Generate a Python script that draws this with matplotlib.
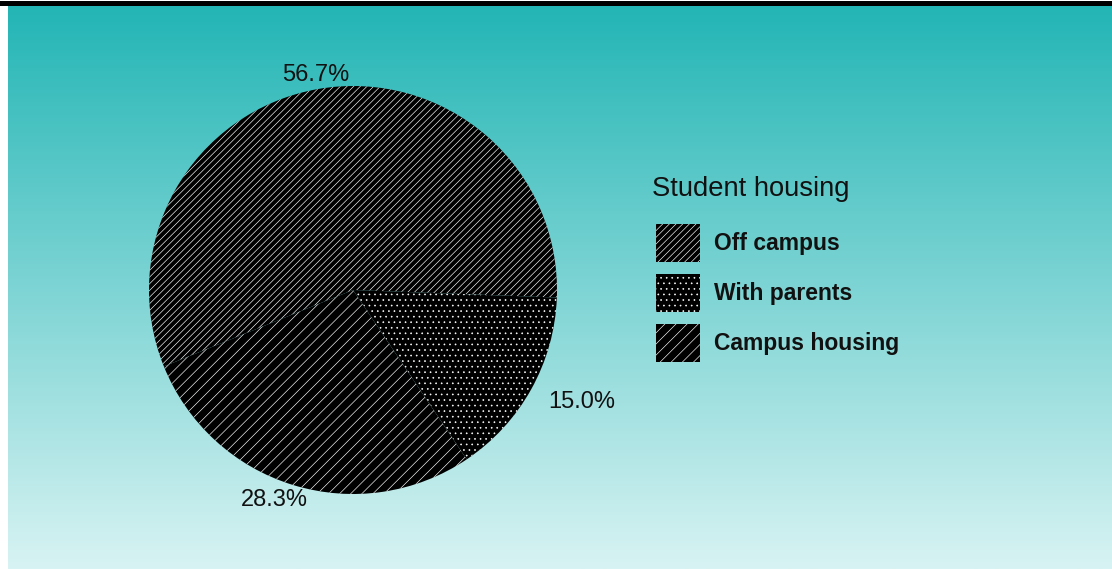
import numpy as np
import matplotlib
matplotlib.use("Agg")
import matplotlib.pyplot as plt
from matplotlib.patches import Rectangle, Patch

# Student housing shares (percent)
categories = ["Off campus", "With parents", "Campus housing"]
shares = [56.7, 15.0, 28.3]
legend_title = "Student housing"

hatches = ["/////", "...", "///"]
label_radius = [1.07, 1.25, 1.10]
label_shift_deg = [0.0, 3.0, -3.5]

plt.rcParams["font.family"] = ["Liberation Sans", "DejaVu Sans"]
plt.rcParams["hatch.color"] = "white"
plt.rcParams["hatch.linewidth"] = 0.45

W, H = 1112, 569
fig = plt.figure(figsize=(W / 100, H / 100), dpi=100)
fig.patch.set_facecolor("white")

# Teal gradient panel
bg = fig.add_axes([8 / W, 0, (W - 8) / W, (H - 5.5) / H])
bg.set_axis_off()
top = np.array([35, 181, 181]) / 255
bot = np.array([216, 243, 243]) / 255
t = np.linspace(0, 1, 256)[:, None]
grad = (top[None, :] * (1 - t) + bot[None, :] * t)[:, None, :]
bg.imshow(grad, aspect="auto", extent=[0, 1, 0, 1], interpolation="bilinear")
bg.set_xlim(0, 1)
bg.set_ylim(0, 1)

# Black rule along the top edge
fig.patches.append(Rectangle((0, (H - 5.5) / H), 1, 4.5 / H, transform=fig.transFigure,
                             facecolor="black", edgecolor="none", zorder=5))

# Pie
cx, cy, R = 353, 290, 204
ax = fig.add_axes([(cx - R) / W, (H - cy - R) / H, 2 * R / W, 2 * R / H])
ax.set_axis_off()
wedges, _ = ax.pie(shares, startangle=202, counterclock=False, radius=1,
                   colors=["black"] * 3,
                   wedgeprops=dict(edgecolor="white", linewidth=0))
for w, h in zip(wedges, hatches):
    w.set_hatch(h)
ax.set_xlim(-1, 1)
ax.set_ylim(-1, 1)
ax.set_aspect("auto")

for w, v, r, d in zip(wedges, shares, label_radius, label_shift_deg):
    mid = np.deg2rad((w.theta1 + w.theta2) / 2 + d)
    ax.text(r * np.cos(mid), r * np.sin(mid), f"{v:.1f}%", ha="center", va="center",
            fontsize=17, color="#111111", clip_on=False)

# Legend
fig.text(652 / W, 1 - 189 / H, legend_title, ha="left", va="center",
         fontsize=19.7, color="#111111")
handles = [Patch(facecolor="black", edgecolor="white", linewidth=0, hatch=h)
           for h in hatches]
leg = fig.legend(handles, categories, loc="upper left",
                 bbox_to_anchor=(656 / W, 1 - 224 / H), frameon=False,
                 prop=dict(size=16.5, weight="bold"),
                 handlelength=1.92, handleheight=2.18, handletextpad=0.6,
                 labelspacing=0.52, borderpad=0, borderaxespad=0)
for txt in leg.get_texts():
    txt.set_color("#111111")

fig.savefig("out.png", dpi=100)
